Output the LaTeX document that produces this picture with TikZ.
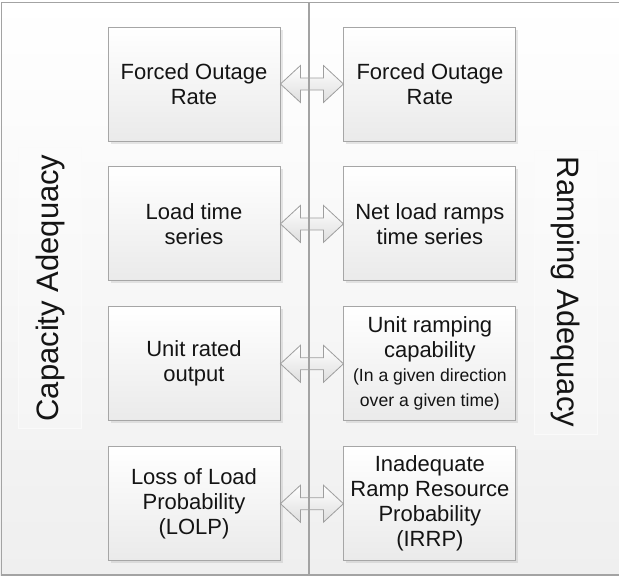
\documentclass[tikz,border=0pt]{standalone}
\usepackage{fontspec}
\setmainfont{Liberation Sans}
\usetikzlibrary{positioning,shadows,calc}

\definecolor{framegray}{HTML}{A3A3A3}
\definecolor{boxgray}{HTML}{A6A6A6}
\definecolor{boxbottom}{HTML}{EAEAEA}
\definecolor{pagebottom}{HTML}{EFEFEF}
\definecolor{textblack}{HTML}{141414}

\begin{document}
\begin{tikzpicture}[x=1pt,y=-1pt,node distance=25pt and 63pt]
  \tikzstyle{metricbox}=[draw=boxgray, line width=0.9pt, top color=white, bottom color=boxbottom,
    minimum width=172, minimum height=114, inner sep=0pt, align=center, text=textblack,
    font=\fontsize{22}{25}\selectfont,
    drop shadow={shadow xshift=2.5pt, shadow yshift=-2.5pt, opacity=0.18}]
  \tikzstyle{swaparrow}=[draw=black!38, line width=0.8pt, top color=white, bottom color=black!13]
  \tikzstyle{sidelabel}=[fill=white, fill opacity=0.2, draw=black!2, text opacity=1,
    text=textblack, font=\fontsize{31}{36}\selectfont, inner xsep=7pt, inner ysep=17pt]

  % page
  \useasboundingbox (0,0) rectangle (619,576);
  \shade[top color=white, bottom color=pagebottom] (0,0) rectangle (619,576);
  \draw[framegray, line width=1.5pt] (625,2.5) -- (1.5,2.5) -- (1.5,575) -- (625,575);

  % capacity side
  \node[metricbox] (cap1) at (194,84) {Forced Outage\\Rate};
  \node[metricbox, below=of cap1] (cap2) {Load time\\series};
  \node[metricbox, below=of cap2] (cap3) {Unit rated\\output};
  \node[metricbox, below=of cap3] (cap4) {Loss of Load\\Probability\\(LOLP)};

  % ramping side
  \node[metricbox, right=of cap1] (ramp1) {Forced Outage\\Rate};
  \node[metricbox, right=of cap2] (ramp2) {Net load ramps\\time series};
  \node[metricbox, right=of cap3] (ramp3) {Unit ramping\\capability\\[-1pt]
    {\fontsize{17.6}{23}\selectfont (In a given direction}\\
    {\fontsize{17.6}{23}\selectfont over a given time)}};
  \node[metricbox, right=of cap4] (ramp4) {Inadequate\\Ramp Resource\\Probability\\(IRRP)};

  % block arrows between the two sides
  \foreach \i in {1,...,4}
    \draw[swaparrow] (cap\i.east) -- ($(cap\i.east)+(20,-18.5)$) -- ($(cap\i.east)+(20,-6)$)
      -- ($(ramp\i.west)+(-20,-6)$) -- ($(ramp\i.west)+(-20,-18.5)$) -- (ramp\i.west)
      -- ($(ramp\i.west)+(-20,18.5)$) -- ($(ramp\i.west)+(-20,6)$)
      -- ($(cap\i.east)+(20,6)$) -- ($(cap\i.east)+(20,18.5)$) -- cycle;

  % divider
  \draw[framegray, line width=1.2pt] (309,2.5) -- (309,575);

  % side titles
  \node[sidelabel, rotate=90] (capacity) at (50,288) {Capacity Adequacy};
  \node[sidelabel, rotate=-90] (ramping) at (566,292) {Ramping Adequacy};
\end{tikzpicture}
\end{document}
